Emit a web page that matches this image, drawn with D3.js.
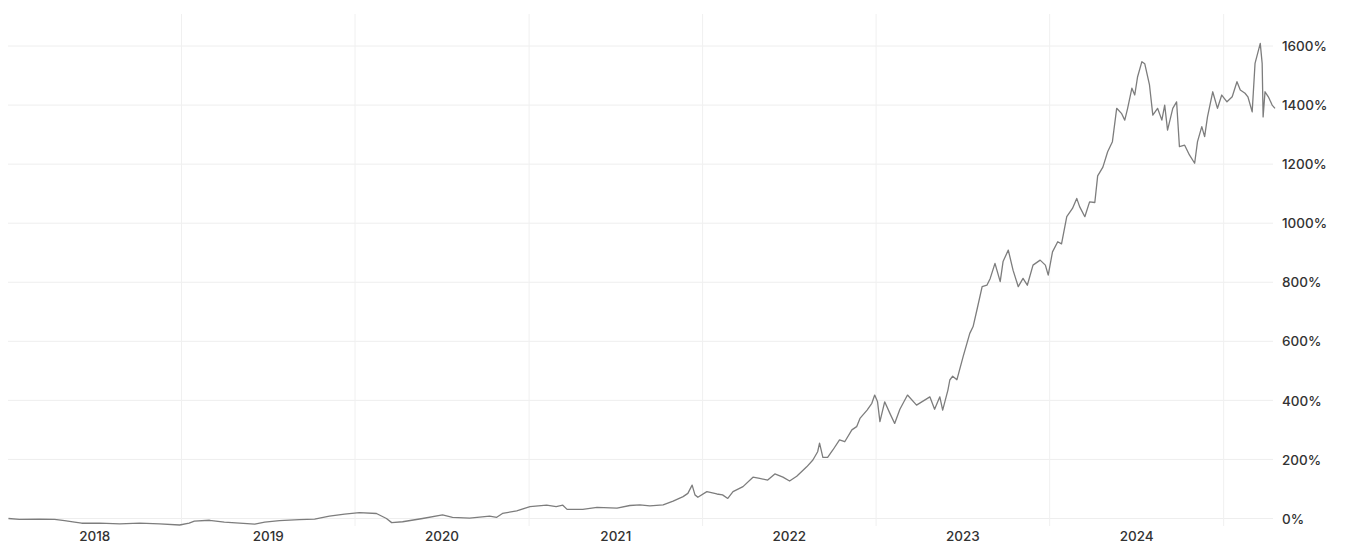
<!DOCTYPE html>
<html>
<head>
<meta charset="utf-8">
<script src="https://cdn.jsdelivr.net/npm/d3@7"></script>
<style>
  html, body { margin: 0; padding: 0; background: #ffffff; }
  svg { display: block; }
  text { font-family: Inter, "Noto Sans", Arial, sans-serif; }
</style>
</head>
<body>
<svg id="chart" width="1361" height="554"></svg>
<script>
// ---------- DATA ----------
const dates = [
  "2018-01-02","2018-01-25","2018-03-08","2018-04-09","2018-04-30","2018-05-21","2018-06-05","2018-07-13","2018-08-24","2018-10-05","2018-11-16","2018-12-28",
  "2019-01-17","2019-01-28","2019-03-01","2019-04-01","2019-05-03","2019-06-04","2019-06-25","2019-07-26","2019-09-06","2019-10-08","2019-11-08","2019-12-10",
  "2020-01-10","2020-02-15","2020-03-07","2020-03-18","2020-04-10","2020-05-22","2020-07-03","2020-07-24","2020-08-29","2020-10-10","2020-10-25","2020-11-06","2020-12-06",
  "2021-01-03","2021-02-07","2021-02-27","2021-03-13","2021-03-22","2021-04-24","2021-05-24","2021-07-05","2021-08-01","2021-08-22","2021-09-12","2021-10-10","2021-10-31","2021-11-21","2021-12-01","2021-12-10","2021-12-16","2021-12-22",
  "2022-01-10","2022-01-31","2022-02-12","2022-02-23","2022-03-06","2022-03-27","2022-04-17","2022-05-01","2022-05-18","2022-06-02","2022-06-19","2022-07-03","2022-07-18","2022-08-08","2022-08-21","2022-08-31","2022-09-04","2022-09-11","2022-09-21","2022-10-02","2022-10-16","2022-10-27","2022-11-11","2022-11-21","2022-11-28","2022-12-13","2022-12-23","2022-12-29",
  "2023-01-04","2023-01-09","2023-01-19","2023-01-30","2023-02-09","2023-02-20","2023-03-08","2023-03-27","2023-04-13","2023-04-24","2023-05-04","2023-05-15","2023-05-21","2023-06-01","2023-06-05","2023-06-11","2023-06-20","2023-07-03","2023-07-17","2023-07-24","2023-08-01","2023-08-12","2023-08-22","2023-08-29","2023-09-08","2023-09-19","2023-09-25","2023-10-06","2023-10-16","2023-10-27","2023-11-06","2023-11-15","2023-11-27","2023-12-12","2023-12-23","2023-12-29",
  "2024-01-07","2024-01-18","2024-01-26","2024-02-06","2024-02-18","2024-02-27","2024-03-04","2024-03-15","2024-03-25","2024-04-05","2024-04-11","2024-04-22","2024-05-02","2024-05-12","2024-05-21","2024-05-31","2024-06-07","2024-06-13","2024-06-22","2024-06-28","2024-07-04","2024-07-13","2024-07-19","2024-07-29","2024-08-05","2024-08-15","2024-08-24","2024-08-30","2024-09-05","2024-09-16","2024-09-24","2024-09-30","2024-10-11","2024-10-21","2024-11-01","2024-11-07","2024-11-16","2024-11-22","2024-11-28","2024-12-09","2024-12-19","2024-12-28",
  "2025-01-08","2025-01-19","2025-01-29","2025-02-05","2025-02-15","2025-02-21","2025-03-02","2025-03-08","2025-03-19","2025-03-23","2025-03-25","2025-03-29","2025-04-05","2025-04-13","2025-04-19"
];
const returns = [
  0,-3,-2,-3,-7,-12,-16,-16,-18,-16,-18,-22,
  -16,-9,-6,-12,-16,-19,-12,-7,-4,-2,8,15,
  20,17,0,-14,-11,0,12,4,1,8,4,17,26,
  40,45,40,45,31,31,38,35,44,46,43,46,59,74,85,113,80,72,
  91,83,80,68,91,108,140,136,130,151,140,127,143,175,198,226,255,207,207,232,266,260,300,311,339,367,390,418,
  395,328,395,356,322,370,418,384,401,412,370,412,367,435,469,482,470,548,627,650,706,785,790,813,864,802,870,909,841,785,813,790,858,875,858,824,
  903,937,930,1022,1050,1084,1056,1022,1072,1070,1160,1190,1242,1276,1389,1372,1349,1389,1457,1434,1496,1547,1540,1468,1366,1389,1349,1400,1315,1389,1411,1259,1264,1231,1203,1276,1327,1293,1360,1445,1389,1434,
  1411,1428,1479,1451,1440,1428,1377,1541,1609,1541,1360,1445,1428,1400,1389
];
const xDomain = ["2018-01-01", "2025-04-19"];
const yearLabels = ["2018","2019","2020","2021","2022","2023","2024"];
const gridYears = ["2019","2020","2021","2022","2023","2024","2025"];
const yTicks = [0,200,400,600,800,1000,1200,1400,1600];

// ---------- LAYOUT ----------
const svg = d3.select("#chart");
const parse = d3.timeParse("%Y-%m-%d");
const x = d3.scaleTime().domain(xDomain.map(parse)).range([8, 1275]);
const y = d3.scaleLinear().domain([0, 1600]).range([518.5, 46]);
const gridLeft = 8, gridRight = 1273, gridTop = 14, gridBottom = 526;

const data = dates.map((d, i) => ({ date: parse(d), v: returns[i] }));

// horizontal grid
svg.append("g").selectAll("line").data(yTicks).join("line")
  .attr("x1", gridLeft).attr("x2", gridRight)
  .attr("y1", d => y(d)).attr("y2", d => y(d))
  .attr("stroke", "#eeeeee").attr("stroke-width", 1);

// vertical grid at year boundaries
svg.append("g").selectAll("line").data(gridYears).join("line")
  .attr("x1", d => x(parse(d + "-01-01"))).attr("x2", d => x(parse(d + "-01-01")))
  .attr("y1", gridTop).attr("y2", gridBottom)
  .attr("stroke", "#f0f0f0").attr("stroke-width", 1);

// y-axis labels (right)
svg.append("g").selectAll("text").data(yTicks).join("text")
  .attr("x", 1282).attr("y", d => y(d)).attr("dy", "0.38em")
  .attr("font-size", 13.5).attr("font-weight", 500).attr("fill", "#333")
  .text(d => d + "%");

// x-axis labels centered in each year
svg.append("g").selectAll("text").data(yearLabels).join("text")
  .attr("x", d => (x(parse(d + "-01-01")) + x(parse((+d + 1) + "-01-01"))) / 2)
  .attr("y", 541)
  .attr("text-anchor", "middle")
  .attr("font-size", 13.5).attr("font-weight", 500).attr("fill", "#333")
  .text(d => d);

// line
const line = d3.line().x(d => x(d.date)).y(d => y(d.v)).curve(d3.curveLinear);
svg.append("path").datum(data)
  .attr("d", line)
  .attr("fill", "none")
  .attr("stroke", "#7d7d7d")
  .attr("stroke-width", 1.3)
  .attr("stroke-linejoin", "round");
</script>
</body>
</html>
